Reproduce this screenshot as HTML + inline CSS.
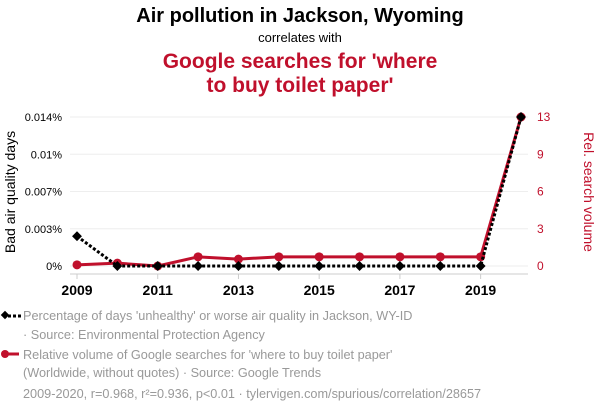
<!DOCTYPE html>
<html><head><meta charset="utf-8"><style>
body{margin:0;background:#fff;}
svg{display:block;font-family:"Liberation Sans",sans-serif;}
</style></head><body>
<svg id="chart" width="600" height="414" viewBox="0 0 600 414">
<text x="300" y="22" text-anchor="middle" font-size="20" font-weight="bold" fill="#000">Air pollution in Jackson, Wyoming</text>
<text x="300" y="42" text-anchor="middle" font-size="13" fill="#000">correlates with</text>
<text x="300" y="68" text-anchor="middle" font-size="21" font-weight="bold" fill="#c0102c">Google searches for 'where</text>
<text x="300" y="92" text-anchor="middle" font-size="21" font-weight="bold" fill="#c0102c">to buy toilet paper'</text>
<g id="grid"></g><g id="axes"></g><g id="marks"></g>
<text transform="translate(15,192) rotate(-90)" text-anchor="middle" font-size="14" fill="#000">Bad air quality days</text>
<text transform="translate(584,192) rotate(90)" text-anchor="middle" font-size="14" fill="#c0102c">Rel. search volume</text>
<g font-size="12.7" fill="#999">
<line x1="3" y1="316" x2="21" y2="316" stroke="#000" stroke-width="3" stroke-dasharray="3,2"/>
<rect x="2" y="312" width="6" height="6" transform="rotate(45 5 315)" fill="#000"/>
<text x="23" y="320">Percentage of days 'unhealthy' or worse air quality in Jackson, WY-ID</text>
<text x="23" y="339">· Source: Environmental Protection Agency</text>
<line x1="3" y1="354" x2="19" y2="354" stroke="#c0102c" stroke-width="3"/>
<circle cx="5" cy="354" r="4" fill="#c0102c"/>
<text x="23" y="359">Relative volume of Google searches for 'where to buy toilet paper'</text>
<text x="23" y="377">(Worldwide, without quotes) · Source: Google Trends</text>
<text x="23" y="398">2009-2020, r=0.968, r²=0.936, p&lt;0.01 · tylervigen.com/spurious/correlation/28657</text>
</g>
</svg>
<script>
const years=[2009,2010,2011,2012,2013,2014,2015,2016,2017,2018,2019,2020];
const airValues=[0.0028,0,0,0,0,0,0,0,0,0,0,0.014];
const searchValues=[0.1,0.25,0,0.8,0.6,0.8,0.8,0.8,0.8,0.8,0.8,13];
const leftTicks=[0,0.0035,0.007,0.0105,0.014];
const leftTickLabels=["0%","0.003%","0.007%","0.01%","0.014%"];
const rightTicks=[0,3.25,6.5,9.75,13];
const rightTickLabels=["0","3","6","9","13"];
const xTicks=[2009,2011,2013,2015,2017,2019];
const NS="http://www.w3.org/2000/svg";
const x0=77,x1=521,yb=266,yt=117;
function xs(v){return x0+(v-2009)/(2020-2009)*(x1-x0);}
function yl(v){return yb-v/0.014*(yb-yt);}
function yr(v){return yb-v/13*(yb-yt);}
function mk(tag,attrs,parent,txt){const e=document.createElementNS(NS,tag);for(const k in attrs)e.setAttribute(k,attrs[k]);if(txt!==undefined)e.textContent=txt;parent.appendChild(e);return e;}
const grid=document.getElementById('grid'),axes=document.getElementById('axes'),marks=document.getElementById('marks');
leftTicks.forEach((t,i)=>{
  const g=mk('line',{x1:70,x2:528,y1:yl(t),y2:yl(t),stroke:'#eee','stroke-width':1},grid);
  
  
  const l=mk('text',{x:62,y:yl(t)+4,'text-anchor':'end','font-size':11,fill:'#000'},axes,leftTickLabels[i]);
  
  
});
rightTicks.forEach((t,i)=>{
  const l=mk('text',{x:537,y:yr(t)+4,'font-size':12,fill:'#c0102c'},axes,rightTickLabels[i]);
  
  
});
const xa=mk('line',{x1:70,x2:528,y1:274,y2:274,stroke:'#ccc','stroke-width':1},axes);


xTicks.forEach(t=>{
  const tk=mk('line',{x1:xs(t),x2:xs(t),y1:274,y2:279,stroke:'#ccc'},axes);
  
  
  const l=mk('text',{x:xs(t),y:295,'text-anchor':'middle','font-size':14,'font-weight':'bold',fill:'#000'},axes,String(t));
  
  
});
const sp=mk('polyline',{points:years.map((y,i)=>xs(y)+','+yr(searchValues[i])).join(' '),fill:'none',stroke:'#c0102c','stroke-width':3,'stroke-linejoin':'round'},marks);


years.forEach((y,i)=>{
  const c=mk('circle',{cx:xs(y),cy:yr(searchValues[i]),r:4.5,fill:'#c0102c'},marks);
  
  
});
const ap=mk('polyline',{points:years.map((y,i)=>xs(y)+','+yl(airValues[i])).join(' '),fill:'none',stroke:'#000','stroke-width':3,'stroke-dasharray':'3,2'},marks);


years.forEach((y,i)=>{
  const cx=xs(y),cy=yl(airValues[i]);
  const d=mk('rect',{x:cx-3.5,y:cy-3.5,width:7,height:7,fill:'#000',transform:'rotate(45 '+cx+' '+cy+')'},marks);
  
  
});
</script>
</body></html>
